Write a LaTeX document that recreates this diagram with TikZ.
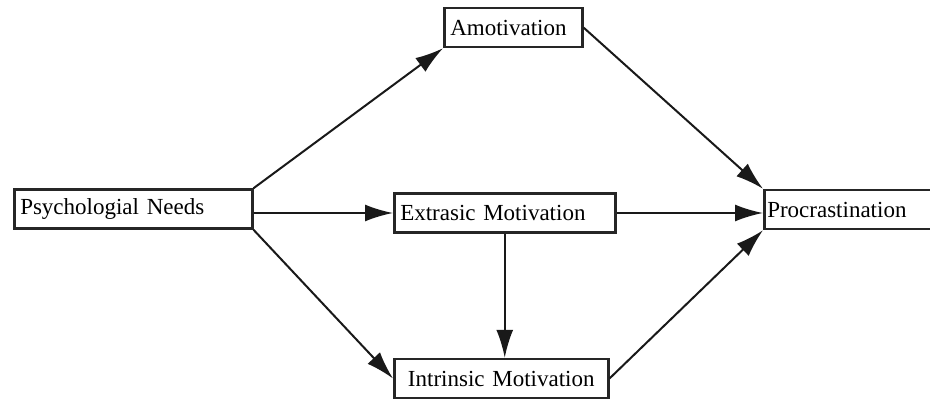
\documentclass[tikz,border=0pt]{standalone}
\usepackage{fontspec}
\setmainfont{Liberation Serif}
\usepackage{tikz}
\usetikzlibrary{positioning, arrows.meta}

\begin{document}
\begin{tikzpicture}[x=1pt, y=1pt,
    box/.style={rectangle, draw=black!85, line width=2.5pt, fill=white, anchor=west, align=left,
      inner xsep=6pt, inner ysep=0pt, minimum height=39pt, font=\fontsize{23}{27}\selectfont},
    arrow/.style={-{Latex[length=28pt, width=17pt]}, line width=2pt, draw=black!90}]
    \useasboundingbox (0,0) rectangle (930,-402);

    % Source
    \node[box, text width=226pt] (needs) at (13,-209) {Psychologial Needs};

    % Middle column (motivation types)
    \node[box, text width=126pt] (amot) at (443,-27.5) {Amotivation};
    \node[box, text width=209pt] (extr) at (393,-213) {Extrasic Motivation};
    \node[box, text width=202pt, align=center] (intr) at (393,-378.5) {Intrinsic Motivation};

    % Outcome
    \node[box, text width=170pt, inner xsep=3pt] (proc) at (763,-209.5) {Procrastination};

    % Arrows - needs to motivation
    \draw[arrow] (needs.north east) -- (amot.south west);
    \draw[arrow] (needs.east |- extr.west) -- (extr.west);
    \draw[arrow] (needs.south east) -- (intr.west);
    \draw[arrow] (extr.south) -- (extr.south |- intr.north);

    % Arrows - motivation to procrastination
    \draw[arrow] (amot.east) -- (proc.north west);
    \draw[arrow] (extr.east) -- (extr.east -| proc.west);
    \draw[arrow] (intr.east) -- (proc.south west);

\end{tikzpicture}
\end{document}
